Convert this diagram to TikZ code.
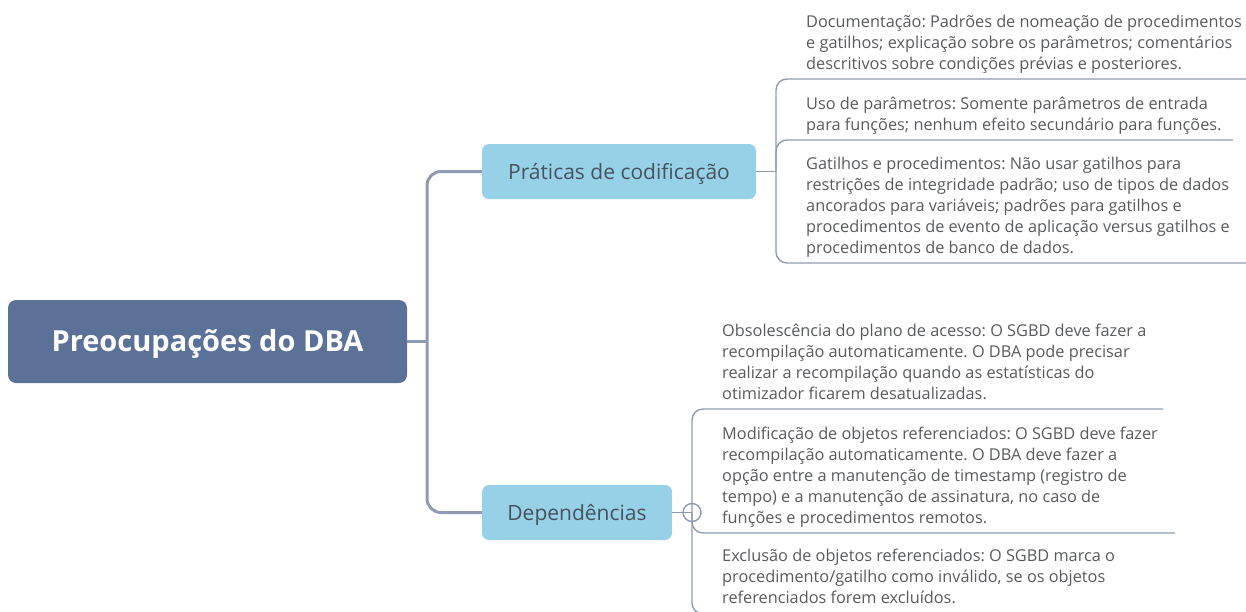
\documentclass[tikz,border=0pt]{standalone}
\usepackage{fontspec}
\setmainfont{Open Sans}
\frenchspacing
\definecolor{rootfill}{RGB}{91,113,152}
\definecolor{branchfill}{RGB}{150,209,231}
\definecolor{linec}{RGB}{143,155,178}
\definecolor{leaftext}{RGB}{88,90,94}
\definecolor{branchtext}{RGB}{72,82,94}
\tikzset{
  rootbox/.style={fill=rootfill, rounded corners=8pt, minimum width=399pt, minimum height=83pt, inner sep=0pt, text=white, text height=28pt, text depth=7.6pt, font=\fontsize{29}{34}\selectfont\bfseries},
  branchbox/.style={fill=branchfill, rounded corners=7pt, minimum height=55pt, inner sep=0pt, text=branchtext, text height=21pt, text depth=6pt, font=\fontsize{21}{25}\selectfont},
  leaf/.style={align=left, inner sep=0pt, text=leaftext, font=\fontsize{16.3}{21}\selectfont, anchor=base west},
  trunk/.style={draw=linec, line width=3pt, rounded corners=14pt},
  leafline/.style={draw=linec, line width=1.4pt, rounded corners=11pt},
}
\begin{document}
\begin{tikzpicture}[x=1pt,y=-1pt]
\useasboundingbox (0,0) rectangle (1246,611);
% main nodes
\node[rootbox] (root) at (207.5,341.5) {Preocupações do DBA};
\node[branchbox, minimum width=274pt] (prat) at (619,171.5) {Práticas de codificação};
\node[branchbox, minimum width=190pt] (dep) at (577,512.5) {Dependências};
% main trunk
\coordinate (mj) at (427,341.5);
\coordinate (mt) at (427,171.5);
\coordinate (mb) at (427,512.5);
\draw[trunk] (prat.west) -- (mt) -- (mb) -- (dep.west);
\draw[trunk, rounded corners=0pt] (root.east) -- (mj);
% leaves of Praticas (anchored at the baseline of their last line)
\node[leaf] (doc) at (806,69) {Documentação: Padrões de nomeação de procedimentos\\e gatilhos; explicação sobre os parâmetros; comentários\\descritivos sobre condições prévias e posteriores.};
\node[leaf] (uso) at (806,130) {Uso de parâmetros: Somente parâmetros de entrada\\para funções; nenhum efeito secundário para funções.};
\node[leaf] (gat) at (806,253) {Gatilhos e procedimentos: Não usar gatilhos para\\restrições de integridade padrão; uso de tipos de dados\\ancorados para variáveis; padrões para gatilhos e\\procedimentos de evento de aplicação versus gatilhos e\\procedimentos de banco de dados.};
\coordinate (pj) at (776,171.5);
\coordinate (pt) at (776,79);
\coordinate (pb) at (776,263);
\coordinate (docend) at (1250,79);
\coordinate (gatend) at (1250,263);
\coordinate (usoc) at (776,140);
\coordinate (usoend) at (1233,140);
\draw[leafline, rounded corners=0pt] (prat.east) -- (pj);
\draw[leafline] (docend) -- (pt) -- (pb) -- (gatend);
\draw[leafline] (pj) -- (usoc) -- (usoend);
% leaves of Dependencias
\node[leaf] (obs) at (722,399) {Obsolescência do plano de acesso: O SGBD deve fazer a\\recompilação automaticamente. O DBA pode precisar\\realizar a recompilação quando as estatísticas do\\otimizador ficarem desatualizadas.};
\node[leaf] (mod) at (722,523) {Modificação de objetos referenciados: O SGBD deve fazer\\recompilação automaticamente. O DBA deve fazer a\\opção entre a manutenção de timestamp (registro de\\tempo) e a manutenção de assinatura, no caso de\\funções e procedimentos remotos.};
\node[leaf] (exc) at (722,603) {Exclusão de objetos referenciados: O SGBD marca o\\procedimento/gatilho como inválido, se os objetos\\referenciados forem excluídos.};
\coordinate (dj) at (692,512.5);
\coordinate (dt) at (692,409);
\coordinate (db) at (692,614);
\coordinate (obsend) at (1163,409);
\coordinate (excend) at (1000,614);
\coordinate (modc) at (692,533);
\coordinate (modend) at (1175,533);
\draw[leafline, rounded corners=0pt] (dep.east) -- (dj);
\draw[leafline] (obsend) -- (dt) -- (db) -- (excend);
\draw[leafline] (dj) -- (modc) -- (modend);
\node[circle, draw=linec, line width=1.4pt, minimum size=18pt, inner sep=0pt] (fold) at (dj) {};
\end{tikzpicture}
\end{document}
